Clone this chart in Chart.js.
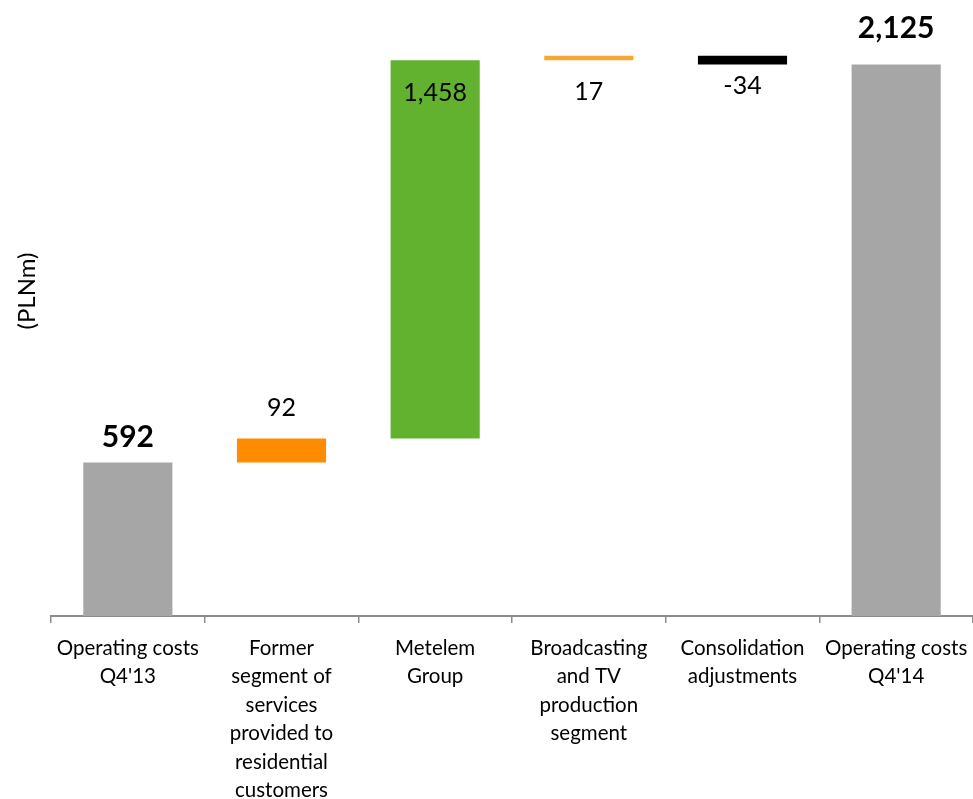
<!DOCTYPE html>
<html>
<head>
<meta charset="utf-8">
<script src="https://cdn.jsdelivr.net/npm/chart.js@4.4.1/dist/chart.umd.min.js"></script>
<style>
  html, body { margin: 0; padding: 0; background: #ffffff; }
  #wrap { width: 973px; height: 799px; }
</style>
</head>
<body>
<div id="wrap"><canvas id="c" width="973" height="799"></canvas></div>
<script>
// ---- Data ----
const categories = [
  ['Operating costs', "Q4'13"],
  ['Former', 'segment of', 'services', 'provided to', 'residential', 'customers'],
  ['Metelem', 'Group'],
  ['Broadcasting', 'and TV', 'production', 'segment'],
  ['Consolidation', 'adjustments'],
  ['Operating costs', "Q4'14"]
];
const startValues = [0, 592, 684, 2142, 2159, 0];
const endValues = [592, 684, 2142, 2159, 2125, 2125];
const valueLabels = ['592', '92', '1,458', '17', '-34', '2,125'];
const axisTitle = '(PLNm)';

// ---- Styles ----
const barColors = ['#a6a6a6', '#ff8c00', '#62b22f', '#f7a734', '#000000', '#a6a6a6'];
const labelBold = [true, false, false, false, false, true];
const labelPlace = ['above', 'above', 'belowTop', 'belowBottom', 'belowBottom', 'above'];
const labelGap = [25, 31, 33, 32, 21, 36];

const floating = startValues.map((s, i) => [s, endValues[i]]);

const labelPlugin = {
  id: 'wfLabels',
  afterDatasetsDraw(chart) {
    const ctx = chart.ctx;
    const meta = chart.getDatasetMeta(0);
    const yScale = chart.scales.y;
    ctx.save();
    ctx.fillStyle = '#000000';
    ctx.textAlign = 'center';
    ctx.textBaseline = 'middle';
    meta.data.forEach((bar, i) => {
      const hi = Math.max(startValues[i], endValues[i]);
      const lo = Math.min(startValues[i], endValues[i]);
      const yTop = yScale.getPixelForValue(hi);
      const yBot = yScale.getPixelForValue(lo);
      let y;
      if (labelPlace[i] === 'above') y = yTop - labelGap[i];
      else if (labelPlace[i] === 'belowTop') y = yTop + labelGap[i];
      else y = yBot + labelGap[i];
      ctx.font = labelBold[i] ? 'bold 30px Lato' : '25px Lato';
      ctx.fillText(valueLabels[i], bar.x, y);
    });
    // axis title
    ctx.translate(27, 291);
    ctx.rotate(-Math.PI / 2);
    ctx.font = '24px Lato';
    ctx.fillText(axisTitle, 0, 0);
    ctx.restore();
  }
};

new Chart(document.getElementById('c'), {
  type: 'bar',
  data: {
    labels: categories,
    datasets: [{
      data: floating,
      backgroundColor: barColors,
      borderWidth: 0,
      barPercentage: 0.58,
      categoryPercentage: 1.0
    }]
  },
  options: {
    responsive: false,
    animation: false,
    layout: { padding: { left: 51, right: 0, top: 1, bottom: 0 } },
    plugins: {
      legend: { display: false },
      tooltip: { enabled: false },
      title: { display: false }
    },
    scales: {
      y: {
        display: false,
        min: 0,
        max: 2370
      },
      x: {
        offset: true,
        afterFit: (s) => { s.height = 183; s.paddingLeft = 0; s.paddingRight = 0; },
        border: { display: true, color: '#8c8c8c', width: 2 },
        grid: {
          offset: true,
          drawOnChartArea: false,
          drawTicks: true,
          tickLength: 7,
          color: '#8c8c8c',
          lineWidth: 1.5
        },
        ticks: {
          color: '#000000',
          padding: 11,
          maxRotation: 0,
          autoSkip: false,
          font: { family: 'Lato', size: 20.5, lineHeight: 1.39 }
        }
      }
    }
  },
  plugins: [labelPlugin]
});
</script>
</body>
</html>
